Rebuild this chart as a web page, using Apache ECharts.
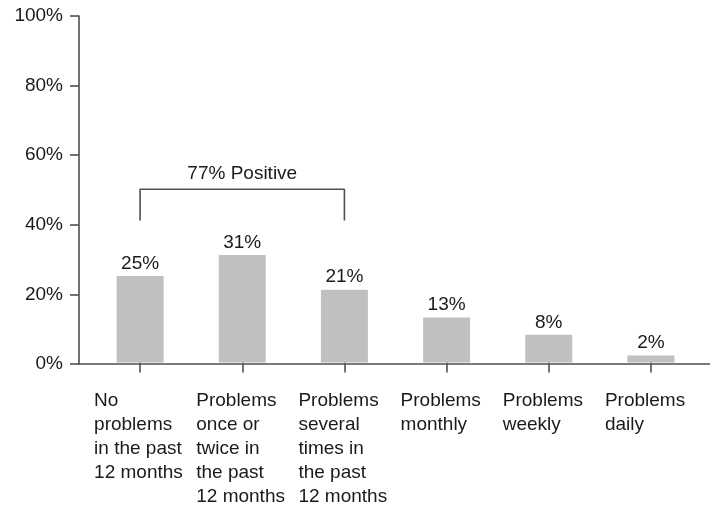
<!DOCTYPE html>
<html>
<head>
<meta charset="utf-8">
<script src="https://cdn.jsdelivr.net/npm/echarts@6/dist/echarts.min.js"></script>
<style>
html, body { margin: 0; padding: 0; background: #fff; }
#chart { width: 710px; height: 506px; }
</style>
</head>
<body>
<div id="chart"></div>
<script>
// Frequency of problems reported
const categories = [
  'No\nproblems\nin the past\n12 months',
  'Problems\nonce or\ntwice in\nthe past\n12 months',
  'Problems\nseveral\ntimes in\nthe past\n12 months',
  'Problems\nmonthly',
  'Problems\nweekly',
  'Problems\ndaily'
];
const shares = [25, 31, 21, 13, 8, 2];
const yTicks = [0, 20, 40, 60, 80, 100];

// Bracket grouping the first three categories
const bracketFrom = 0;
const bracketTo = 2;
const bracketTop = 50;
const bracketFoot = 41;
const bracketText = '77% Positive';

const FONT = 'Liberation Sans, Arial, Helvetica, sans-serif';
const INK = '#1a1a1a';
const AXIS = '#505050';

const chart = echarts.init(document.getElementById('chart'), null, { renderer: 'canvas' });

chart.setOption({
  animation: false,
  textStyle: { fontFamily: FONT },
  grid: [
    { left: 89, right: 8, top: 16, bottom: 142 },
    { left: 79, right: 0, top: 16, bottom: 142 }
  ],
  xAxis: [
    {
      type: 'category',
      gridIndex: 0,
      data: categories,
      axisLine: { show: false },
      axisTick: { show: true, alignWithLabel: true, length: 10, lineStyle: { color: AXIS, width: 1.6 } },
      axisLabel: {
        margin: 26,
        interval: 0,
        align: 'center',
        verticalAlign: 'top',
        formatter: v => v.split('\n').map(s => '{a|' + s + '}').join('\n'),
        rich: {
          a: { width: 92, align: 'left', fontSize: 19, lineHeight: 24, color: INK, fontFamily: FONT }
        }
      }
    },
    {
      type: 'value',
      gridIndex: 1,
      min: 0,
      max: 1,
      axisLine: { show: true, lineStyle: { color: AXIS, width: 1.6 } },
      axisTick: { show: false },
      axisLabel: { show: false },
      splitLine: { show: false }
    }
  ],
  yAxis: [
    { type: 'value', gridIndex: 0, min: 0, max: 100, show: false },
    {
      type: 'value',
      gridIndex: 1,
      min: yTicks[0],
      max: yTicks[yTicks.length - 1],
      interval: 20,
      axisLine: { show: true, lineStyle: { color: AXIS, width: 1.6 } },
      axisTick: { show: true, length: 9, lineStyle: { color: AXIS, width: 1.6 } },
      axisLabel: { formatter: '{value}%', fontSize: 19, color: INK, margin: 16, fontFamily: FONT },
      splitLine: { show: false }
    }
  ],
  series: [
    {
      type: 'bar',
      xAxisIndex: 0,
      yAxisIndex: 0,
      data: shares,
      barWidth: 47,
      itemStyle: { color: '#c0c0c0' },
      label: {
        show: true,
        position: 'top',
        distance: 3,
        formatter: '{c}%',
        fontSize: 19,
        color: INK,
        fontFamily: FONT
      }
    },
    {
      type: 'line',
      xAxisIndex: 0,
      yAxisIndex: 0,
      data: [
        [bracketFrom, bracketFoot],
        [bracketFrom, bracketTop],
        [bracketTo, bracketTop],
        [bracketTo, bracketFoot]
      ],
      symbol: 'none',
      lineStyle: { color: AXIS, width: 1.6 },
      silent: true
    },
    {
      type: 'scatter',
      xAxisIndex: 0,
      yAxisIndex: 0,
      data: [[(bracketFrom + bracketTo) / 2, bracketTop]],
      symbolSize: 0,
      itemStyle: { opacity: 1 },
      label: {
        show: true,
        position: 'top',
        distance: 6,
        formatter: bracketText,
        fontSize: 19,
        color: INK,
        opacity: 1,
        fontFamily: FONT
      },
      silent: true
    }
  ]
});
</script>
</body>
</html>
